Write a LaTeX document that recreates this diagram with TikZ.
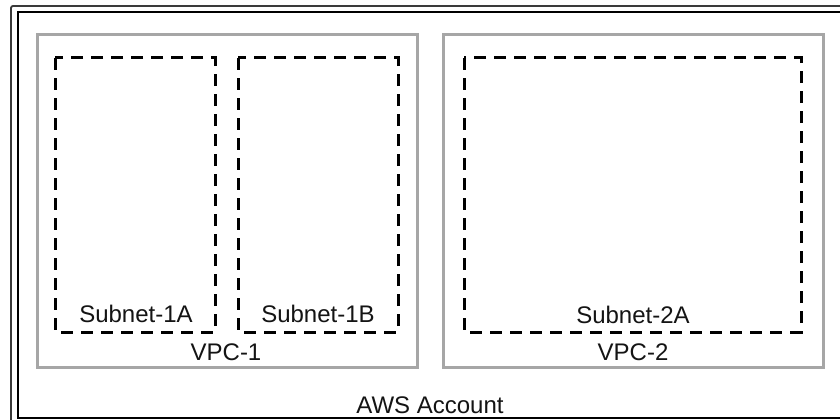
\documentclass[tikz,border=0pt]{standalone}
\usepackage{fontspec}
\setmainfont{Liberation Sans}
\definecolor{vpcgray}{HTML}{A6A6A6}
\definecolor{framegray}{HTML}{3A3A3A}
\tikzset{
  vpcbox/.style={draw=vpcgray, line width=3pt},
  subnetbox/.style={draw=black, line width=3pt, dash pattern=on 12pt off 8pt},
  lbl/.style={anchor=base, inner sep=0pt, font=\fontsize{24}{28}\selectfont, text=black!92}
}
\begin{document}
\begin{tikzpicture}[x=1pt, y=-1pt]
\useasboundingbox (0,0) rectangle (840,420);
\fill[white] (0,0) rectangle (840,420);
% AWS account frame (double border at left/top, right edge off canvas)
\draw[framegray, line width=1.8pt, rounded corners=2pt] (11,422) -- (11,6) -- (845,6);
\draw[black, line width=2.6pt] (845,12) -- (18,12) -- (18,418) -- (845,418);
% VPCs
\draw[vpcbox] (37,35) rectangle (417,367);
\draw[vpcbox] (443,35) rectangle (823,367);
% Subnets
\draw[subnetbox] (55,58) rectangle (215,332);
\draw[subnetbox] (238,58) rectangle (398,332);
\draw[subnetbox] (464,58) rectangle (801,332);
% Labels
\node[lbl] (s1a) at (136,322) {Subnet-1A};
\node[lbl] (s1b) at (318,322) {Subnet-1B};
\node[lbl] (s2a) at (633,323) {Subnet-2A};
\node[lbl] (v1) at (226,360) {VPC-1};
\node[lbl] (v2) at (633,360) {VPC-2};
\node[lbl] (aws) at (430,413) {AWS Account};
\end{tikzpicture}
\end{document}
